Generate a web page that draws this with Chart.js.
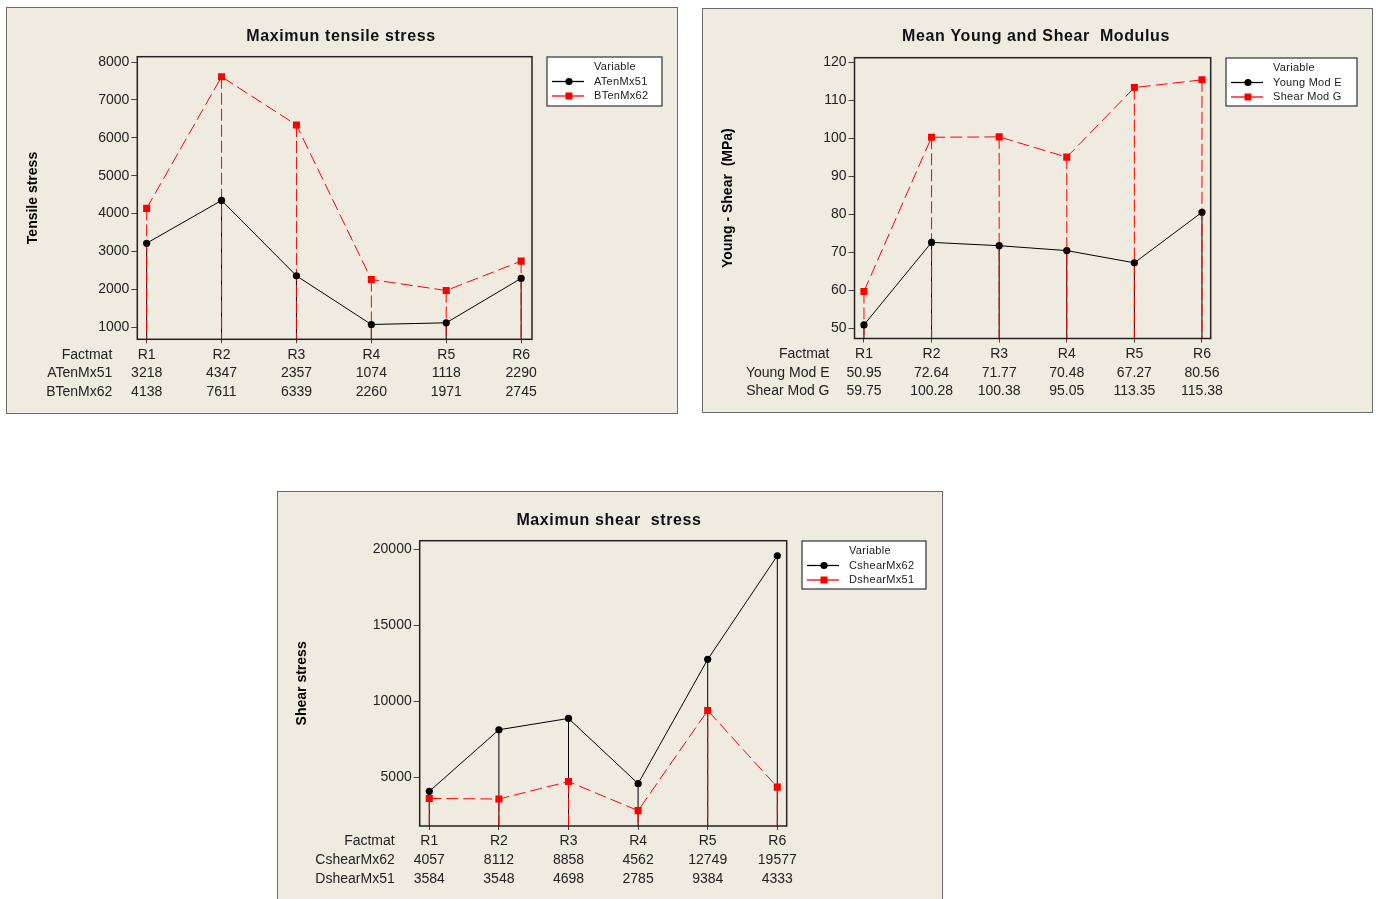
<!DOCTYPE html>
<html>
<head>
<meta charset="utf-8">
<script src="https://cdn.jsdelivr.net/npm/chart.js@4.4.0/dist/chart.umd.min.js"></script>
<style>
  body { margin: 0; width: 1378px; height: 899px; background: #fff; overflow: hidden; position: relative; }
  .panel { position: absolute; background: #efebe1; border: 1px solid #6a6a6a; box-sizing: border-box; }
  canvas { position: absolute; left: 0; top: 0; }
</style>
</head>
<body>
<div class="panel" style="left:6px;top:7px;width:672px;height:407px"></div>
<div class="panel" style="left:702px;top:8px;width:671px;height:405px"></div>
<div class="panel" style="left:277px;top:491px;width:666px;height:430px"></div>
<canvas id="tensileChart" width="1378" height="899"></canvas>
<canvas id="modulusChart" width="1378" height="899"></canvas>
<canvas id="shearChart" width="1378" height="899"></canvas>
<script>
const factmat = ['R1', 'R2', 'R3', 'R4', 'R5', 'R6'];

const aTenMx51 = [3218, 4347, 2357, 1074, 1118, 2290];
const bTenMx62 = [4138, 7611, 6339, 2260, 1971, 2745];

const youngModE = [50.95, 72.64, 71.77, 70.48, 67.27, 80.56];
const shearModG = [59.75, 100.28, 100.38, 95.05, 113.35, 115.38];

const cShearMx62 = [4057, 8112, 8858, 4562, 12749, 19577];
const dShearMx51 = [3584, 3548, 4698, 2785, 9384, 4333];

const tensileTicks = [1000, 2000, 3000, 4000, 5000, 6000, 7000, 8000];
const modulusTicks = [50, 60, 70, 80, 90, 100, 110, 120];
const shearTicks = [5000, 10000, 15000, 20000];

const FONT = '"Liberation Sans", Arial, sans-serif';
const W = 1378, H = 899;

// extra drawing: drop lines, frame, title, legend box and data table
const panelPlugin = {
    id: 'panel',
    beforeDatasetsDraw(chart, args, o) {
        const { ctx, chartArea: a, scales: { x, y } } = chart;
        ctx.save();
        ctx.beginPath();
        ctx.rect(a.left, a.top, a.right - a.left, a.bottom - a.top);
        ctx.clip();
        chart.data.datasets.forEach(ds => {
            ctx.beginPath();
            ctx.strokeStyle = ds.borderColor;
            ctx.lineWidth = 1;
            ctx.setLineDash(ds.borderDash ? [12, 4] : []);
            ds.data.forEach(p => {
                const px = x.getPixelForValue(p.x);
                ctx.moveTo(px, y.getPixelForValue(p.y));
                ctx.lineTo(px, a.bottom);
            });
            ctx.stroke();
        });
        ctx.restore();
    },
    afterDraw(chart, args, o) {
        const { ctx, chartArea: a, scales: { x } } = chart;
        ctx.save();
        // frame
        ctx.strokeStyle = '#222';
        ctx.lineWidth = 1.5;
        ctx.setLineDash([]);
        ctx.strokeRect(a.left, a.top, a.right - a.left, a.bottom - a.top);

        // title
        ctx.fillStyle = '#111';
        ctx.font = 'bold 16px ' + FONT;
        ctx.letterSpacing = '0.6px';
        ctx.textAlign = 'center';
        ctx.textBaseline = 'middle';
        ctx.fillText(o.title, o.titleX, o.titleY);
        ctx.letterSpacing = '0px';

        // legend
        const L = o.legend;
        ctx.fillStyle = '#fff';
        ctx.fillRect(L.x, L.y, L.w, L.h);
        ctx.strokeStyle = '#333';
        ctx.lineWidth = 1.2;
        ctx.strokeRect(L.x, L.y, L.w, L.h);
        ctx.font = '11px ' + FONT;
        ctx.letterSpacing = '0.3px';
        ctx.textAlign = 'left';
        ctx.fillStyle = '#222';
        ctx.fillText('Variable', L.x + 47, L.y + 10);
        chart.data.datasets.forEach((ds, i) => {
            const ly = L.y + 24.5 + i * 14.5;
            ctx.beginPath();
            ctx.strokeStyle = ds.borderColor;
            ctx.lineWidth = 1.3;
            ctx.moveTo(L.x + 5, ly);
            ctx.lineTo(L.x + 37, ly);
            ctx.stroke();
            ctx.fillStyle = ds.borderColor;
            if (ds.pointStyle === 'rect') {
                ctx.fillRect(L.x + 22 - 3.5, ly - 3.5, 7, 7);
            } else {
                ctx.beginPath();
                ctx.arc(L.x + 22, ly, 3.6, 0, Math.PI * 2);
                ctx.fill();
            }
            ctx.fillStyle = '#222';
            ctx.fillText(ds.label, L.x + 47, ly);
        });
        ctx.letterSpacing = '0px';

        // table under the x axis
        ctx.font = '14px ' + FONT;
        ctx.fillStyle = '#222';
        const rows = [['Factmat', factmat]].concat(chart.data.datasets.map((ds, j) => [ds.label, o.values[j]]));
        rows.forEach((r, k) => {
            const ry = a.bottom + 15.5 + k * 18.7;
            ctx.textAlign = 'right';
            ctx.fillText(r[0], a.left - 25, ry);
            ctx.textAlign = 'center';
            r[1].forEach((v, i) => ctx.fillText(String(v), x.getPixelForValue(i), ry));
        });
        ctx.restore();
    }
};

function makeChart(id, c) {
    const pts = arr => arr.map((v, i) => ({ x: i, y: v }));
    const padLeft = c.yTitleX - 8.4;
    return new Chart(document.getElementById(id), {
        type: 'line',
        data: {
            datasets: [{
                label: c.names[0],
                data: pts(c.series[0]),
                borderColor: '#000000',
                backgroundColor: '#000000',
                borderWidth: 1,
                pointStyle: 'circle',
                pointRadius: 3.6,
                pointBorderWidth: 0
            }, {
                label: c.names[1],
                data: pts(c.series[1]),
                borderColor: '#ff0000',
                backgroundColor: '#ff0000',
                borderWidth: 1,
                borderDash: [12, 5],
                pointStyle: 'rect',
                pointRadius: 5,
                pointBorderWidth: 0
            }]
        },
        options: {
            responsive: false,
            animation: false,
            events: [],
            layout: {
                padding: { left: padLeft, top: c.area.top, right: W - c.area.right, bottom: H - c.area.bottom - 4 }
            },
            scales: {
                x: {
                    type: 'linear',
                    min: c.xMin,
                    max: c.xMax,
                    afterBuildTicks: s => { s.ticks = factmat.map((f, i) => ({ value: i })); },
                    ticks: { display: false },
                    grid: { drawOnChartArea: false, tickLength: 4, color: '#444' },
                    border: { display: false },
                    afterFit: s => { s.height = 4; }
                },
                y: {
                    min: c.yMin,
                    max: c.yMax,
                    afterBuildTicks: s => { s.ticks = c.ticks.map(v => ({ value: v })); },
                    ticks: {
                        font: { family: FONT, size: 14 },
                        color: '#222',
                        padding: 2,
                        callback: v => String(v)
                    },
                    grid: { drawOnChartArea: false, tickLength: 6, color: '#444' },
                    border: { display: false },
                    title: {
                        display: true,
                        text: c.yTitle,
                        color: '#000',
                        padding: 0,
                        font: { family: FONT, size: 14, weight: 'bold', lineHeight: 1.2 }
                    },
                    afterFit: s => { s.width = c.area.left - padLeft; }
                }
            },
            plugins: {
                legend: { display: false },
                tooltip: { enabled: false },
                panel: {
                    title: c.title,
                    titleX: c.titleX,
                    titleY: c.titleY,
                    legend: c.legend,
                    values: c.series
                }
            }
        },
        plugins: [panelPlugin]
    });
}

makeChart('tensileChart', {
    title: 'Maximun tensile stress', titleX: 341, titleY: 37,
    yTitle: 'Tensile stress', yTitleX: 33,
    names: ['ATenMx51', 'BTenMx62'],
    series: [aTenMx51, bTenMx62],
    ticks: tensileTicks, yMin: 683, yMax: 8140,
    xMin: -0.125, xMax: 5.145,
    area: { left: 137.3, top: 56.7, right: 532, bottom: 339.3 },
    legend: { x: 547, y: 57, w: 115, h: 49 }
});

makeChart('modulusChart', {
    title: 'Mean Young and Shear  Modulus', titleX: 1036, titleY: 37,
    yTitle: 'Young - Shear  (MPa)', yTitleX: 728,
    names: ['Young Mod E', 'Shear Mod G'],
    series: [youngModE, shearModG],
    ticks: modulusTicks, yMin: 47.37, yMax: 121.2,
    xMin: -0.14, xMax: 5.129,
    area: { left: 854.5, top: 57.7, right: 1210.7, bottom: 338.5 },
    legend: { x: 1226, y: 58, w: 131, h: 48 }
});

makeChart('shearChart', {
    title: 'Maximun shear  stress', titleX: 609, titleY: 521,
    yTitle: 'Shear stress', yTitleX: 302,
    names: ['CshearMx62', 'DshearMx51'],
    series: [cShearMx62, dShearMx51],
    ticks: shearTicks, yMin: 1772, yMax: 20567,
    xMin: -0.138, xMax: 5.135,
    area: { left: 419.7, top: 540.7, right: 786.7, bottom: 826 },
    legend: { x: 802, y: 541, w: 124, h: 48 }
});
</script>
</body>
</html>
